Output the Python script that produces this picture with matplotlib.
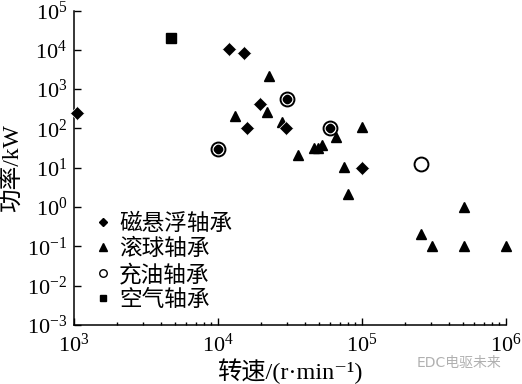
"""Power vs speed of high-speed machines, grouped by bearing type."""

from __future__ import annotations

import sys

import matplotlib

matplotlib.use("Agg")
import matplotlib.pyplot as plt
from matplotlib.lines import Line2D
from matplotlib.ticker import LogFormatterMathtext, LogLocator, NullLocator

# speed in r/min, power in kW
maglev_speed = [1050, 11900, 15100, 19600, 16000, 10000, 30300, 29700, 60000, 100000]
maglev_power = [245, 10500, 8100, 425, 100, 30, 560, 104, 100, 10]

ball_speed = [13100, 22600, 22000, 27700, 36100, 46700, 49800, 52500, 65700,
              100000, 75400, 80400, 511000, 255000, 305000, 511000, 1000000]
ball_power = [207, 2100, 266, 148, 21, 31, 32, 38, 59,
              110, 10.2, 2.1, 1.0, 0.21, 0.1, 0.1, 0.1]

oil_speed = [10000, 30300, 60000, 255000]
oil_power = [30, 560, 100, 12.5]

air_speed = [4700]
air_power = [20000]

labels = ["磁悬浮轴承", "滚球轴承", "充油轴承", "空气轴承"]

SERIF = ["Liberation Serif", "Noto Sans CJK SC", "DejaVu Serif"]


def main() -> int:
    plt.rcParams["font.family"] = SERIF
    plt.rcParams["mathtext.fontset"] = "stix"

    figure = plt.figure(figsize=(5.22, 3.84), dpi=100)
    axis = figure.add_axes([0.1418, 0.1536, 0.8275, 0.819])

    axis.plot(ball_speed, ball_power, linestyle="none", marker="^", markersize=7.6,
              color="black", zorder=4, clip_on=False)
    axis.plot(maglev_speed, maglev_power, linestyle="none", marker="D",
              markersize=7.0, markerfacecolor="black", markeredgecolor="white",
              markeredgewidth=0.5, zorder=5, clip_on=False)
    axis.plot(air_speed, air_power, linestyle="none", marker="s", markersize=6.5,
              color="black", zorder=5, clip_on=False)
    # white gap between the ring and a diamond sitting inside it
    axis.plot(oil_speed, oil_power, linestyle="none", marker="o", markersize=8.4,
              markerfacecolor="none", markeredgecolor="white", markeredgewidth=1.4,
              zorder=6, clip_on=False)
    axis.plot(oil_speed, oil_power, linestyle="none", marker="o", markersize=10,
              color="black", markerfacecolor="none", markeredgewidth=1.4,
              zorder=7, clip_on=False)

    axis.set_xscale("log")
    axis.set_yscale("log")
    axis.set_xlim(1e3, 1e6)
    axis.set_ylim(1e-3, 1e5)

    axis.xaxis.set_major_locator(LogLocator(base=10, numticks=10))
    axis.xaxis.set_minor_locator(LogLocator(base=10, subs=range(2, 10), numticks=10))
    axis.yaxis.set_major_locator(LogLocator(base=10, numticks=20))
    axis.yaxis.set_minor_locator(NullLocator())
    axis.xaxis.set_major_formatter(LogFormatterMathtext())
    axis.yaxis.set_major_formatter(LogFormatterMathtext())

    for side in ("top", "right"):
        axis.spines[side].set_visible(False)
    for side in ("left", "bottom"):
        axis.spines[side].set_linewidth(1.1)

    axis.tick_params(which="both", direction="in", width=1.0, labelsize=16)
    axis.tick_params(which="major", length=5)
    axis.tick_params(which="minor", length=2.5)
    axis.tick_params(axis="x", pad=6)
    axis.tick_params(axis="y", pad=5)

    axis.set_xlabel("转速/(r·min⁻¹)", fontsize=17.5, labelpad=1)
    axis.set_ylabel("功率/kW", fontsize=17, labelpad=2)

    # legend markers are drawn smaller than in the plot
    proxies = [
        Line2D([], [], linestyle="none", marker="D", markersize=4.2, color="black"),
        Line2D([], [], linestyle="none", marker="^", markersize=5.2, color="black"),
        Line2D([], [], linestyle="none", marker="o", markersize=5.4, color="black",
               markerfacecolor="none", markeredgewidth=1.0),
        Line2D([], [], linestyle="none", marker="s", markersize=4.3, color="black"),
    ]
    axis.legend(proxies, labels, loc="upper left", bbox_to_anchor=(0.052, 0.353),
                frameon=False, fontsize=16.3, handlelength=0.6,
                handletextpad=0.4, labelspacing=0.17, borderpad=0,
                borderaxespad=0)

    figure.text(0.96, 0.055, "EDC电驱未来", ha="right", va="center",
                fontsize=10, color="#b0b0b0", family=["DejaVu Sans", "Noto Sans CJK SC"])

    figure.savefig("out.png", dpi=100)
    plt.close(figure)
    return 0


if __name__ == "__main__":
    sys.exit(main())
